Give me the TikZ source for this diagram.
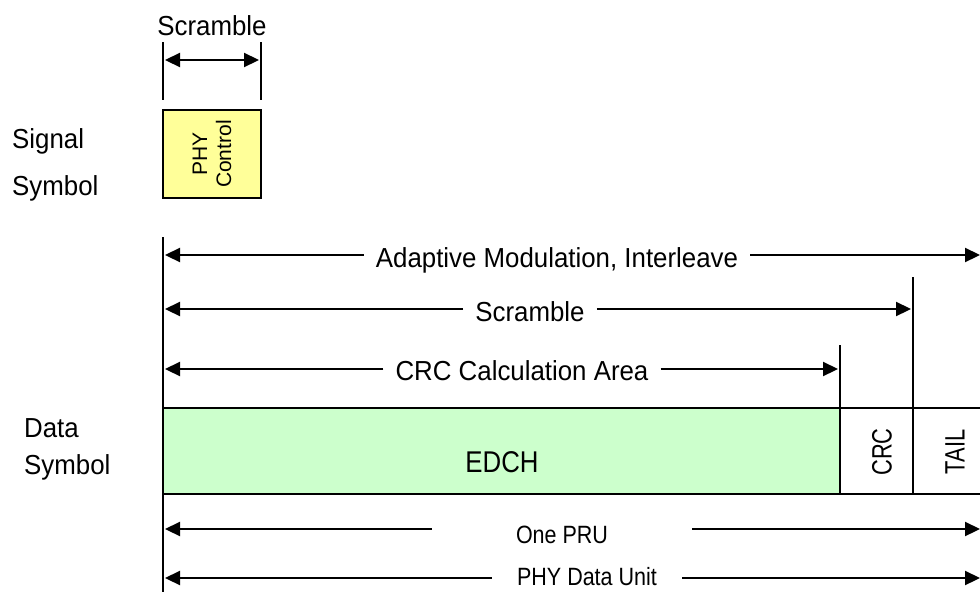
\documentclass[tikz,border=0pt]{standalone}
\usepackage{fontspec}
\setmainfont{Liberation Sans}
\newfontfamily\lblfont[FakeStretch=0.94]{Liberation Sans}
\newfontfamily\condfont[FakeStretch=0.86]{Liberation Sans}
\newfontfamily\vertfont[FakeStretch=0.78]{Liberation Sans}
\usetikzlibrary{arrows.meta, positioning}

\definecolor{phyyellow}{HTML}{FFFF99}
\definecolor{edchgreen}{HTML}{CCFFCC}

\begin{document}
\begin{tikzpicture}[
  x=1pt, y=-1pt,
  >={Triangle[length=15pt,width=14pt]},
  lbl/.style={font=\lblfont\fontsize{27.5}{32}\selectfont, inner sep=0pt},
  dimlbl/.style={font=\lblfont\fontsize{27.5}{32}\selectfont, inner xsep=12pt, inner ysep=0pt,
                 text height=19.7pt, text depth=0pt},
  smlbl/.style={font=\condfont\fontsize{25}{29}\selectfont, inner sep=0pt,
                text height=17.9pt, text depth=0pt},
  field/.style={rectangle, draw=black, line width=1.8pt, inner sep=0pt, outer sep=0pt,
                anchor=north west, minimum height=86pt},
  vtxt/.style={rotate=90, font=\fontsize{21}{24}\selectfont, align=center, inner sep=0pt},
  vnarrow/.style={rotate=90, font=\vertfont\fontsize{28}{32}\selectfont, inner sep=0pt},
  bound/.style={line width=1.4pt},
  dim/.style={line width=2.2pt, ->}
]
\useasboundingbox (0,0) rectangle (980,592);

% signal symbol
\node[lbl, anchor=base] (topscr) at (212,35) {Scramble};
\coordinate (tl1) at (163,42);  \coordinate (tl2) at (163,100);
\coordinate (tr1) at (261,42);  \coordinate (tr2) at (261,100);
\coordinate (tlA) at (165,60);  \coordinate (trA) at (259,60);
\draw[bound] (tl1) -- (tl2);
\draw[bound] (tr1) -- (tr2);
\draw[dim, <->] (tlA) -- (trA);

\node[field, fill=phyyellow, minimum width=98pt, minimum height=88pt] (phy) at (163,110) {};
\node[vtxt] (phytxt) at (phy.center) {PHY\\Control};

\node[lbl, anchor=base west] (sig)  at (12,148) {Signal};
\node[lbl, anchor=base west] (sigsym) at (12,195) {Symbol};

% data symbol
\node[lbl, anchor=base west] (dat)  at (24,437) {Data};
\node[lbl, anchor=base west] (datsym) at (24,474) {Symbol};

\node[field, fill=edchgreen, minimum width=677pt] (edch) at (163,408) {};
\node[font=\condfont\fontsize{30}{34}\selectfont, inner sep=0pt, anchor=base]
     (edchtxt) at (502,472) {EDCH};
\node[field, minimum width=73pt] (crc)  at (edch.north east) {};
\node[field, minimum width=80pt] (tail) at (crc.north east) {};
\node[vnarrow] (crctxt)  at (882,452) {CRC};
\node[vnarrow] (tailtxt) at (955,452) {TAIL};

% boundaries
\coordinate (lefttop) at (163,237);
\coordinate (leftbot) at (163,592);
\coordinate (crctop)  at (840,345);
\coordinate (tailtop) at (913,277);
\draw[bound] (lefttop) -- (edch.north west);
\draw[bound] (edch.south west) -- (leftbot);
\draw[bound] (crctop) -- (crctop |- crc.north);
\draw[bound] (tailtop) -- (tailtop |- tail.north);

% spans above
\coordinate (amodL) at (165,255); \coordinate (amodR) at (980,255);
\node[dimlbl] (amod) at (557,258) {Adaptive Modulation, Interleave};
\draw[dim] (amod.west |- amodL) -- (amodL);
\draw[dim] (amod.east |- amodR) -- (amodR);

\coordinate (scrL) at (165,309); \coordinate (scrR) at (911,309);
\node[dimlbl] (scr) at (530,312) {Scramble};
\draw[dim] (scr.west |- scrL) -- (scrL);
\draw[dim] (scr.east |- scrR) -- (scrR);

\coordinate (calcL) at (165,369); \coordinate (calcR) at (838,369);
\node[dimlbl] (calc) at (522,371) {CRC Calculation Area};
\draw[dim] (calc.west |- calcL) -- (calcL);
\draw[dim] (calc.east |- calcR) -- (calcR);

% spans below
\coordinate (pruL) at (165,529); \coordinate (pruR) at (980,529);
\node[smlbl, minimum width=260pt] (pru) at (562,535) {One PRU};
\draw[dim] (pru.west |- pruL) -- (pruL);
\draw[dim] (pru.east |- pruR) -- (pruR);

\coordinate (pduL) at (165,578); \coordinate (pduR) at (980,578);
\node[smlbl, minimum width=190pt] (pdu) at (587,577) {PHY Data Unit};
\draw[dim] (pdu.west |- pduL) -- (pduL);
\draw[dim] (pdu.east |- pduR) -- (pduR);
\end{tikzpicture}
\end{document}
